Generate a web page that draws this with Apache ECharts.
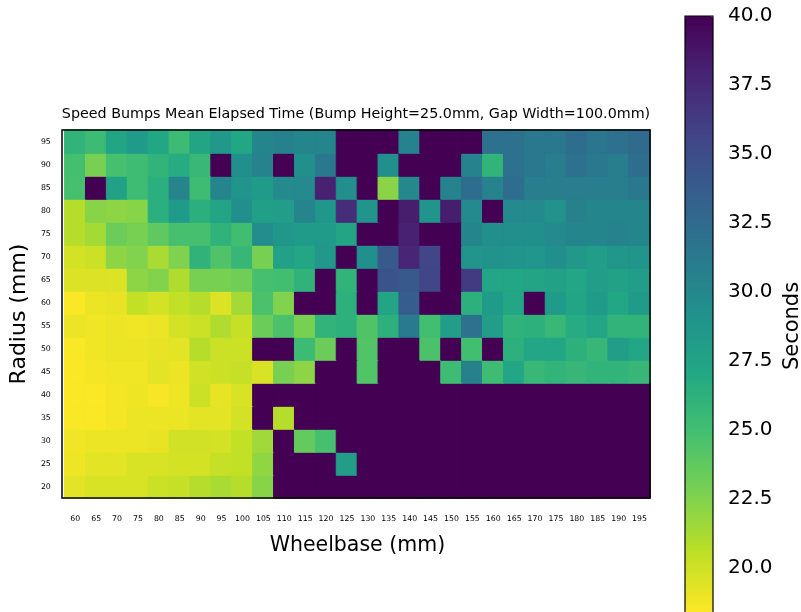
<!DOCTYPE html>
<html>
<head>
<meta charset="utf-8">
<script src="https://cdn.jsdelivr.net/npm/echarts@6/dist/echarts.min.js"></script>
<style>
  html, body { margin: 0; padding: 0; background: #fff; }
  #chart { width: 801px; height: 612px; }
</style>
</head>
<body>
<div id="chart"></div>
<script>
// wheelbase (x) and radius (y) categories
const wheelbase = [];
for (let w = 60; w <= 195; w += 5) wheelbase.push(String(w));
const radius = ['20', '25', '30', '35', '40', '45', '50', '55', '60', '65', '70', '75', '80', '85', '90', '95'];

const colorbarTicks = [20, 22.5, 25, 27.5, 30, 32.5, 35, 37.5, 40];

// mean elapsed time in seconds, one list per radius (40 = did not finish / clipped)
const r95 = [26.0, 25.3, 27.3, 28.3, 27.1, 25.3, 27.4, 28.5, 27.1, 30.2, 30.6, 30.2, 30.2, 40, 40, 40, 30.5, 40, 40, 40, 32.0, 32.0, 31.4, 31.4, 32.3, 31.5, 32.0, 32.5];
const r90 = [24.9, 22.8, 24.8, 25.2, 26.0, 26.8, 25.6, 40, 29.3, 30.5, 40, 29.3, 31.4, 40, 40, 29.3, 40, 40, 40, 30.5, 26.0, 32.0, 31.4, 30.8, 32.0, 31.4, 30.8, 32.3];
const r85 = [24.8, 40, 27.7, 25.2, 26.4, 30.3, 25.2, 30.2, 28.9, 28.3, 29.8, 29.8, 38.0, 29.4, 40, 22.2, 30.0, 40, 30.5, 32.3, 30.4, 32.3, 30.8, 30.8, 30.8, 30.8, 30.8, 31.4];
const r80 = [20.8, 22.3, 22.1, 22.3, 26.4, 28.3, 26.4, 27.4, 29.3, 27.8, 28.0, 30.3, 28.7, 37.2, 28.8, 40, 38.3, 28.8, 38.3, 29.8, 40, 29.8, 29.8, 29.0, 30.6, 30.2, 30.2, 30.2];
const r75 = [20.8, 21.4, 23.3, 22.8, 23.8, 24.8, 24.8, 26.1, 25.1, 29.6, 28.6, 28.3, 28.3, 27.4, 40, 40, 38.0, 40, 40, 30.2, 29.4, 29.4, 29.3, 29.8, 30.2, 30.2, 30.4, 30.2];
const r70 = [19.8, 20.1, 22.1, 22.5, 21.2, 22.6, 26.1, 24.4, 25.7, 22.8, 27.7, 27.2, 28.5, 40, 29.3, 34.0, 37.8, 35.5, 40, 28.8, 29.0, 28.8, 28.7, 29.3, 28.5, 28.0, 28.7, 28.8];
const r65 = [19.5, 19.5, 19.5, 22.1, 22.5, 21.0, 22.8, 22.8, 23.1, 24.8, 25.0, 26.1, 40, 26.0, 40, 34.5, 34.0, 35.5, 40, 36.3, 27.2, 27.2, 27.4, 27.7, 27.2, 28.0, 27.7, 28.0];
const r60 = [18.5, 19.0, 19.1, 20.4, 19.8, 20.4, 20.8, 19.5, 21.4, 24.6, 22.5, 40, 40, 26.3, 40, 27.4, 33.7, 40, 40, 26.3, 28.3, 27.2, 40, 28.3, 27.4, 28.3, 27.1, 28.3];
const r55 = [19.0, 18.8, 19.0, 18.8, 19.0, 19.8, 20.1, 21.0, 20.3, 23.3, 24.6, 22.8, 26.0, 26.3, 24.4, 26.3, 31.2, 25.0, 28.0, 32.0, 28.0, 26.1, 26.3, 25.6, 26.8, 27.2, 26.0, 26.0];
const r50 = [18.5, 18.8, 19.0, 19.0, 19.1, 19.3, 20.8, 20.1, 20.1, 40, 40, 25.3, 23.3, 40, 24.3, 40, 40, 24.6, 40, 25.0, 40, 26.3, 27.2, 27.2, 26.3, 25.7, 28.0, 27.2];
const r45 = [18.5, 18.7, 18.8, 18.8, 19.3, 19.0, 19.9, 20.1, 20.3, 19.6, 22.8, 22.1, 40, 40, 24.3, 40, 40, 40, 25.2, 30.6, 25.2, 27.2, 25.6, 26.0, 25.7, 26.0, 26.0, 25.7];
const r40 = [18.5, 18.5, 18.7, 18.9, 18.6, 18.9, 20.1, 19.1, 19.6, 40, 40, 40, 40, 40, 40, 40, 40, 40, 40, 40, 40, 40, 40, 40, 40, 40, 40, 40];
const r35 = [18.5, 18.5, 18.7, 19.0, 19.0, 19.0, 19.3, 19.3, 19.8, 40, 20.8, 40, 40, 40, 40, 40, 40, 40, 40, 40, 40, 40, 40, 40, 40, 40, 40, 40];
const r30 = [18.8, 19.0, 19.0, 19.0, 19.1, 19.9, 19.9, 19.8, 20.4, 21.5, 40, 23.6, 24.8, 40, 40, 40, 40, 40, 40, 40, 40, 40, 40, 40, 40, 40, 40, 40];
const r25 = [18.9, 19.3, 19.3, 19.6, 19.6, 19.8, 19.8, 20.3, 20.4, 22.0, 40, 40, 40, 28.0, 40, 40, 40, 40, 40, 40, 40, 40, 40, 40, 40, 40, 40, 40];
const r20 = [19.3, 19.6, 19.6, 19.6, 20.1, 20.3, 20.8, 21.2, 20.8, 22.3, 40, 40, 40, 40, 40, 40, 40, 40, 40, 40, 40, 40, 40, 40, 40, 40, 40, 40];

const rows = [r20, r25, r30, r35, r40, r45, r50, r55, r60, r65, r70, r75, r80, r85, r90, r95];

// viridis, reversed (low = yellow)
const viridisR = ['#fde725', '#bddf26', '#7ad151', '#44bf70', '#22a884', '#21918c',
                  '#2a788e', '#355f8d', '#414487', '#482475', '#440154'];

const font = 'DejaVu Sans';
const cMin = 18.4, cMax = 40;

// a thin border in the cell's own colour hides the anti-aliasing seams between cells
var data = [];
rows.forEach(function (row, yi) {
    row.forEach(function (v, xi) {
        var t = Math.min(1, Math.max(0, (v - cMin) / (cMax - cMin)));
        data.push({
            value: [xi, yi, v],
            itemStyle: { borderWidth: 1, borderColor: echarts.color.lerp(t, viridisR) }
        });
    });
});

var myChart = echarts.init(document.getElementById('chart'));

var option = {
    animation: false,
    textStyle: { fontFamily: font },
    title: {
        text: 'Speed Bumps Mean Elapsed Time (Bump Height=25.0mm, Gap Width=100.0mm)',
        left: 351,
        top: 102,
        textAlign: 'center',
        textStyle: { fontFamily: font, fontSize: 14.3, fontWeight: 'normal', color: '#000' }
    },
    grid: [
        { left: 62, top: 130, width: 588, height: 368 },
        { left: 685, top: 16, width: 28, height: 596 }
    ],
    xAxis: [{
        type: 'category',
        data: wheelbase,
        gridIndex: 0,
        name: 'Wheelbase (mm)',
        nameLocation: 'middle',
        nameGap: 37,
        nameTextStyle: { fontFamily: font, fontSize: 20.5, color: '#000' },
        axisLine: { show: false },
        axisTick: { alignWithLabel: true, length: 6, lineStyle: { color: '#000', width: 1 } },
        axisLabel: { fontFamily: font, fontSize: 7.8, color: '#000', margin: 16.5, interval: 0 },
        splitArea: { show: false }
    }, {
        type: 'value',
        gridIndex: 1,
        show: false
    }],
    yAxis: [{
        type: 'category',
        data: radius,
        gridIndex: 0,
        name: 'Radius (mm)',
        nameLocation: 'middle',
        nameRotate: 90,
        nameGap: 28,
        nameTextStyle: { fontFamily: font, fontSize: 22, color: '#000' },
        axisLine: { show: false },
        axisTick: { alignWithLabel: true, length: 6, lineStyle: { color: '#000', width: 1 } },
        axisLabel: { fontFamily: font, fontSize: 7.8, color: '#000', margin: 14, interval: 0 },
        splitArea: { show: false }
    }, {
        type: 'value',
        gridIndex: 1,
        position: 'right',
        min: cMin,
        max: cMax,
        axisLine: { show: false },
        axisTick: { show: true, length: 6, customValues: colorbarTicks, lineStyle: { color: '#000', width: 1 } },
        axisLabel: {
            fontFamily: font, fontSize: 20, color: '#000', margin: 15,
            padding: [5, 0, 0, 0],
            customValues: colorbarTicks,
            formatter: function (v) { return Number(v).toFixed(1); }
        },
        splitLine: { show: false }
    }],
    visualMap: {
        type: 'continuous',
        min: cMin,
        max: cMax,
        calculable: false,
        realtime: false,
        orient: 'vertical',
        left: 685,
        top: 16,
        itemWidth: 28,
        itemHeight: 596,
        padding: 0,
        seriesIndex: 0,
        inRange: { color: viridisR }
    },
    graphic: [{
        type: 'rect',
        z: 100,
        shape: { x: 62, y: 130, width: 588, height: 368 },
        style: { fill: 'none', stroke: '#000', lineWidth: 1.5 }
    }, {
        type: 'rect',
        z: 100,
        shape: { x: 685, y: 16, width: 28, height: 620 },
        style: { fill: 'none', stroke: '#000', lineWidth: 1.2 }
    }, {
        type: 'text',
        z: 100,
        x: 793,
        y: 326,
        rotation: Math.PI / 2,
        style: { text: 'Seconds', font: '21px "DejaVu Sans"', fill: '#000', align: 'center', verticalAlign: 'middle' }
    }],
    series: [{
        type: 'heatmap',
        xAxisIndex: 0,
        yAxisIndex: 0,
        data: data,
        emphasis: { disabled: true }
    }]
};
myChart.setOption(option);
</script>
</body>
</html>
